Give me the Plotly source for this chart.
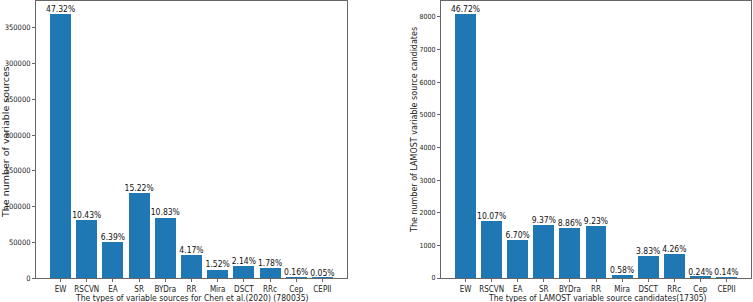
import plotly.graph_objects as go

categories = ["EW", "RSCVN", "EA", "SR", "BYDra", "RR", "Mira", "DSCT", "RRc", "Cep", "CEPII"]

chen_counts = [369113, 81358, 49844, 118721, 84478, 32527, 11857, 16693, 13885, 1248, 390]
chen_pct = ["47.32%", "10.43%", "6.39%", "15.22%", "10.83%", "4.17%", "1.52%", "2.14%", "1.78%", "0.16%", "0.05%"]

lamost_counts = [8085, 1743, 1159, 1621, 1533, 1597, 100, 663, 737, 42, 24]
lamost_pct = ["46.72%", "10.07%", "6.70%", "9.37%", "8.86%", "9.23%", "0.58%", "3.83%", "4.26%", "0.24%", "0.14%"]

left_yticks = [0, 50000, 100000, 150000, 200000, 250000, 300000, 350000]
right_yticks = [0, 1000, 2000, 3000, 4000, 5000, 6000, 7000, 8000]

W, H = 753, 302
BAR = "#1f77b4"
COND = "DejaVu Sans Condensed, Roboto, Liberation Sans, sans-serif"
DJ = "DejaVu Sans, sans-serif"

fig = go.Figure()

fig.add_trace(go.Bar(x=categories, y=chen_counts, width=0.8, marker_color=BAR,
                     marker_line_width=0, xaxis="x", yaxis="y", showlegend=False))
fig.add_trace(go.Scatter(x=categories, y=chen_counts, text=chen_pct, mode="text",
                         textposition="top center", cliponaxis=False,
                         textfont=dict(family=COND, size=8.5, color="#111"),
                         xaxis="x", yaxis="y", showlegend=False))
fig.add_trace(go.Bar(x=categories, y=lamost_counts, width=0.8, marker_color=BAR,
                     marker_line_width=0, xaxis="x2", yaxis="y2", showlegend=False))
fig.add_trace(go.Scatter(x=categories, y=lamost_counts, text=lamost_pct, mode="text",
                         textposition="top center", cliponaxis=False,
                         textfont=dict(family=COND, size=8.5, color="#111"),
                         xaxis="x2", yaxis="y2", showlegend=False))

axcommon = dict(showgrid=False, zeroline=False, showline=True, linecolor="#666",
                linewidth=1, mirror=True, ticks="outside", ticklen=3, tickcolor="#666",
                automargin=False)
xt = dict(family=COND, size=8, color="#222")

fig.update_layout(
    width=W, height=H,
    margin=dict(l=0, r=0, t=1, b=24),
    paper_bgcolor="white", plot_bgcolor="white",
    bargap=0,
    xaxis=dict(domain=[36 / W, 347 / W], range=[-0.94, 10.94], anchor="y",
               tickfont=xt, **axcommon),
    yaxis=dict(domain=[0, 1], range=[0, 387569], anchor="x",
               tickvals=left_yticks, tickformat="d",
               tickfont=dict(family=COND, size=7.5, color="#222"), **axcommon),
    xaxis2=dict(domain=[441 / W, 751 / W], range=[-0.94, 10.94], anchor="y2",
                tickfont=xt, **axcommon),
    yaxis2=dict(domain=[0, 1], range=[0, 8489], anchor="x2",
                tickvals=right_yticks, tickformat="d",
                tickfont=dict(family=COND, size=7, color="#222"), **axcommon),
    annotations=[
        dict(text="The types of variable sources for Chen et al.(2020) (780035)",
             xref="paper", yref="paper", x=191.5 / W, y=-19.5 / 277, xanchor="center",
             yanchor="middle", showarrow=False, font=dict(family=COND, size=8.5, color="#222")),
        dict(text="The types of LAMOST variable source candidates(17305)",
             xref="paper", yref="paper", x=597 / W, y=-19.5 / 277, xanchor="center",
             yanchor="middle", showarrow=False, font=dict(family=COND, size=8.5, color="#222")),
        dict(text="The number of variable sources", textangle=-90,
             xref="paper", yref="paper", x=5 / W, y=(278 - 142) / 277, xanchor="center",
             yanchor="middle", showarrow=False, font=dict(family=DJ, size=9.5, color="#222")),
        dict(text="The number of LAMOST variable source candidates", textangle=-90,
             xref="paper", yref="paper", x=414 / W, y=(278 - 130) / 277, xanchor="center",
             yanchor="middle", showarrow=False, font=dict(family=DJ, size=8, color="#222")),
    ],
)

fig.write_html("out.html", config={"displayModeBar": False},
               post_script="document.body.style.margin='0';document.body.style.padding='0';document.body.style.overflow='hidden';")
